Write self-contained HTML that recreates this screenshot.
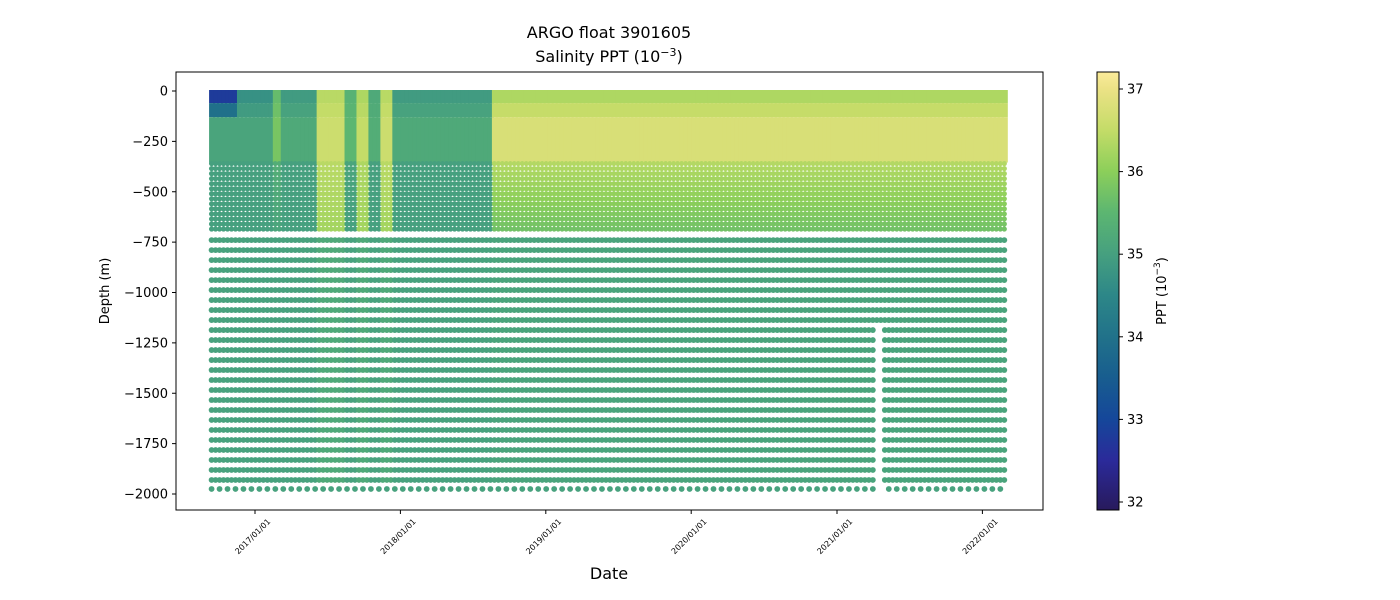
<!DOCTYPE html>
<html><head><meta charset="utf-8">
<style>
body{margin:0;background:#fff;}
svg{display:block;font-family:"DejaVu Sans","Liberation Sans",sans-serif;}
</style></head>
<body>
<svg id="chart" width="1400" height="600" viewBox="0 0 1400 600">
  <text x="609" y="38" font-size="16" text-anchor="middle">ARGO float 3901605</text>
  <text x="609" y="62" font-size="16" text-anchor="middle">Salinity PPT (10<tspan dy="-6" font-size="11">−3</tspan><tspan dy="6">)</tspan></text>
  <g id="plot"></g>
  <rect x="176" y="72" width="867" height="438" fill="none" stroke="#000" stroke-width="1"/>
  <g id="yaxis"></g>
  <g id="xaxis"></g>
  <text transform="translate(109,291) rotate(-90)" font-size="13" text-anchor="middle">Depth (m)</text>
  <text x="609" y="579" font-size="16" text-anchor="middle">Date</text>
  <defs><linearGradient id="cbgrad" x1="0" y1="1" x2="0" y2="0"></linearGradient></defs>
  <rect x="1097" y="72" width="22" height="438" fill="url(#cbgrad)" stroke="#000" stroke-width="1"/>
  <g id="cbaxis"></g>
  <text transform="translate(1166,291) rotate(-90)" font-size="13" text-anchor="middle">PPT (10<tspan dy="-6" font-size="9">−3</tspan><tspan dy="6">)</tspan></text>
</svg>
<script>
// ---- data ----
const periodStart = ["2016-09-14","2017-02-20","2017-03-10","2017-06-10","2017-08-12","2017-09-15","2017-10-10","2017-11-10","2017-12-10","2018-08-20"];
const periodEnd   = ["2017-02-20","2017-03-10","2017-06-10","2017-08-12","2017-09-15","2017-10-10","2017-11-10","2017-12-10","2018-08-20","2022-02-28"];
const surfaceSal  = [34.7, 35.6, 34.9, 36.4, 35.4, 36.3, 35.2, 36.4, 34.9, 36.3];
const upperSal    = [35.1, 35.8, 35.2, 36.6, 35.5, 36.5, 35.3, 36.6, 35.2, 36.75];
const midTopSal   = [35.0, 35.3, 35.0, 36.4, 35.1, 36.3, 35.0, 36.4, 35.0, 36.35];
const midBotSal   = [35.0, 35.1, 35.0, 36.2, 35.0, 36.2, 35.0, 36.2, 35.0, 35.7];
const deepSal     = [35.05, 35.05, 35.05, 35.2, 35.05, 35.2, 35.05, 35.2, 35.05, 35.1];
const earlySurfStart = ["2016-09-14"]; const earlySurfEnd = ["2016-11-20"]; const earlySurfSal = [32.8];
const deepGapStart = ["2021-04-10"]; const deepGapEnd = ["2021-04-25"]; const deepGapDepth = [-1170];
const yTicks = [0,-250,-500,-750,-1000,-1250,-1500,-1750,-2000];
const xTicks = ["2017/01/01","2018/01/01","2019/01/01","2020/01/01","2021/01/01","2022/01/01"];
const cbTicks = [32,33,34,35,36,37];
const cycleDays = 10;
const cmapVals = [31.9,32.5,33,33.5,34,34.5,35,35.5,36,36.5,37,37.2];
const cmapCols = ["#281a5c","#2b2a9a","#15479a","#185d8f","#21728a","#2d8788","#46a07f","#5cb671","#8ccf5a","#c4dc68","#ece286","#fbeb9a"];

// ---- scales ----
const NS = "http://www.w3.org/2000/svg";
const T0 = Date.UTC(2017,0,1), YEAR = 365.25*864e5;
function xs(t){ return 255 + (t - T0)/YEAR*145.5; }
function ys(d){ return 91 - d/2000*403; }
function cs(v){ return 502 - (v-32)/5*413; }
function parse(s){ const p=s.split(/[-\/]/).map(Number); return Date.UTC(p[0],p[1]-1,p[2]); }
function hex(h){ return [1,3,5].map(i=>parseInt(h.substr(i,2),16)); }
function cmap(v){
  if(v<=cmapVals[0]) return cmapCols[0];
  for(let i=1;i<cmapVals.length;i++){ if(v<=cmapVals[i]){ const f=(v-cmapVals[i-1])/(cmapVals[i]-cmapVals[i-1]); const a=hex(cmapCols[i-1]),b=hex(cmapCols[i]); return "rgb("+a.map((x,k)=>Math.round(x+(b[k]-x)*f)).join(",")+")"; } }
  return cmapCols[cmapCols.length-1];
}
function mk(tag,attrs,parent){ const e=document.createElementNS(NS,tag); for(const k in attrs) e.setAttribute(k,attrs[k]); parent.appendChild(e); return e; }

const grad=document.getElementById('cbgrad');
cmapVals.forEach((v,i)=>{ mk('stop',{offset:((v-31.9)/(37.2-31.9)),'stop-color':cmapCols[i]},grad); });

const plot=document.getElementById('plot');
const start=parse(periodStart[0]), end=parse(periodEnd[periodEnd.length-1]);
let idx=0;
for(let t=start;t<=end;t+=cycleDays*864e5, idx++){
  let p=0; for(let i=0;i<periodStart.length;i++){ if(t>=parse(periodStart[i]) && t<parse(periodEnd[i])) p=i; }
  const x=xs(t);
  const g=mk('g',{},plot);
  
  
  let surf=surfaceSal[p];
  for(let i=0;i<earlySurfStart.length;i++){ if(t>=parse(earlySurfStart[i]) && t<parse(earlySurfEnd[i])) surf=earlySurfSal[i]; }
  const r1=mk('rect',{x:x-2.5,y:ys(0)-1,width:6,height:ys(-60)-ys(0)+1,fill:cmap(surf)},g);
  
  
  const rm=mk('rect',{x:x-2.5,y:ys(-60),width:6,height:ys(-130)-ys(-60),fill:cmap((surf+upperSal[p])/2)},g);
  
  
  const r2=mk('rect',{x:x-2.5,y:ys(-130),width:6,height:ys(-355)-ys(-130),fill:cmap(upperSal[p])},g);
  
  
  for(let d=-360; d>=-700; d-=25){
    const f=(-360-d)/340; const v=midTopSal[p]+(midBotSal[p]-midTopSal[p])*f;
    const c=mk('circle',{cx:x,cy:ys(d),r:2.6,fill:cmap(v)},g);
    
    
  }
  let gap=null; for(let i=0;i<deepGapStart.length;i++){ if(t>=parse(deepGapStart[i]) && t<parse(deepGapEnd[i])) gap=deepGapDepth[i]; }
  for(let d=-740; d>=-1935; d-=49.6){
    if(gap!==null && d<gap) continue;
    const c=mk('circle',{cx:x,cy:ys(d),r:2.9,fill:cmap(deepSal[p])},g);
    
    
  }
  if(idx%2===0 && gap===null){
    const c=mk('circle',{cx:x,cy:ys(-1975),r:2.9,fill:cmap(35.05)},g);
    
    
  }
}

const ya=document.getElementById('yaxis');
yTicks.forEach(v=>{
  const y=ys(v);
  const l=mk('line',{x1:172,x2:176,y1:y,y2:y,stroke:'#000'},ya);
  
  
  const tx=mk('text',{x:168,y:y+4.5,'font-size':13,'text-anchor':'end'},ya);
  
  
  tx.textContent=(v<0?'−':'')+Math.abs(v);
});
const xa=document.getElementById('xaxis');
xTicks.forEach(s=>{
  const x=xs(parse(s));
  const l=mk('line',{x1:x,x2:x,y1:510,y2:514,stroke:'#000'},xa);
  
  
  const tx=mk('text',{transform:'translate('+(x+16)+',522) rotate(-45)','font-size':8,'text-anchor':'end'},xa);
  
  
  tx.textContent=s;
});
const ca=document.getElementById('cbaxis');
cbTicks.forEach(v=>{
  const y=cs(v);
  const l=mk('line',{x1:1119,x2:1123,y1:y,y2:y,stroke:'#000'},ca);
  
  
  const tx=mk('text',{x:1127,y:y+4.5,'font-size':13},ca);
  
  
  tx.textContent=v;
});
</script>
</body></html>
